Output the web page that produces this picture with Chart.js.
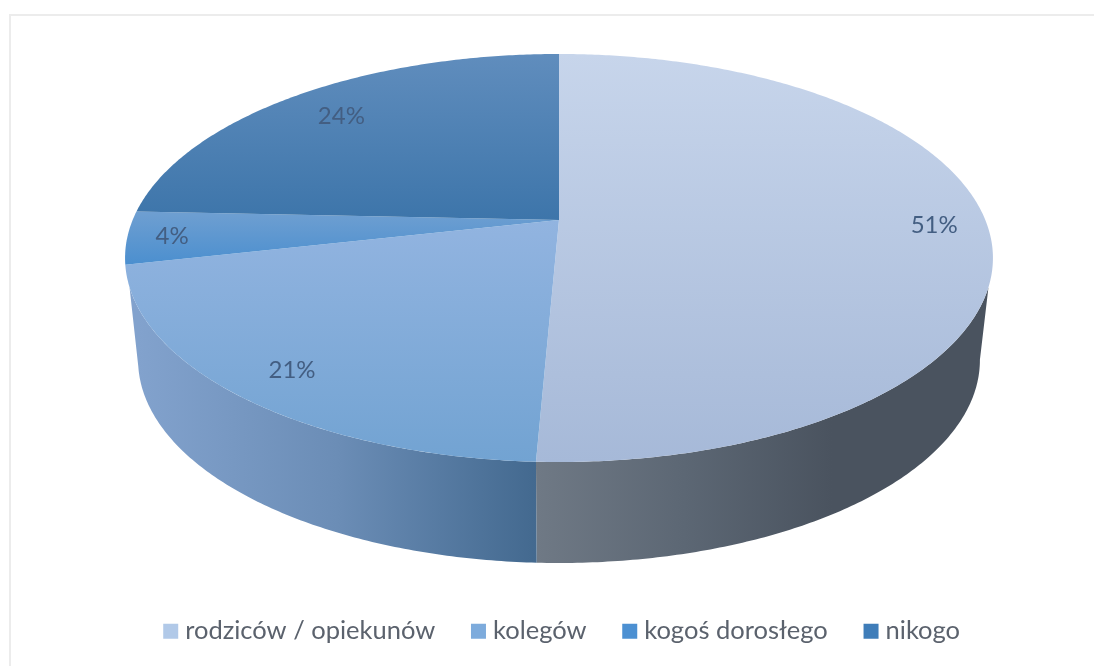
<!DOCTYPE html>
<html>
<head>
<meta charset="utf-8">
<script src="https://cdn.jsdelivr.net/npm/chart.js@4"></script>
<style>
    html, body { margin: 0; padding: 0; background: #fff; overflow: hidden; }
    #wrap { position: relative; width: 1094px; height: 666px; }
    #frame { position: absolute; left: 9px; top: 14px; right: 0; bottom: 0; border-left: 2px solid #ececec; border-top: 2px solid #ececec; }
    canvas { position: absolute; left: 0; top: 0; }
</style>
</head>
<body>
<div id="wrap">
    <div id="frame"></div>
    <canvas id="pie" width="1094" height="666"></canvas>
</div>
<script>
const categories = ['rodziców / opiekunów', 'kolegów', 'kogoś dorosłego', 'nikogo'];
const shares = [50.7, 20.8, 4.2, 24.3];

const legendColors = ['#b1c9e8', '#7dabdc', '#4c90d2', '#3f7db9'];
const topColors = [
    ['#c7d5eb', '#a6b9d8'],
    ['#92b4e0', '#72a3d2'],
    ['#6f9fd1', '#4b8fcf'],
    ['#608dbd', '#3d75aa']
];
const wallColors = [
    ['#6f7985', '#5c6774', '#4a535f'],
    ['#82a2cd', '#6b8db6', '#43698f']
];
// small shifts of the percent labels away from their slice's mid line
const labelNudge = [[3, 1], [5, 0], [-12, 1], [12, 7]];

// perspective of the tilted disc, in units of the chart's radius
const TILT = 0.186, DEPTH_Y = 0.5, SQUEEZE = 0.97, STRETCH = 2.09;
const FONT = 'Lato, "Open Sans", sans-serif';

function project(arc, theta, rho) {
    const u = Math.sin(theta) * rho;
    const v = -Math.cos(theta) * rho;
    const d = 1 - TILT * v;
    return {
        x: arc.x + arc.outerRadius * STRETCH * u / d,
        y: arc.y + arc.outerRadius * (v - TILT) / d
    };
}

function lower(arc, p) {
    return {
        x: arc.x + (p.x - arc.x) * SQUEEZE,
        y: arc.y + (p.y - arc.y) * 0.995 + arc.outerRadius * DEPTH_Y
    };
}

function rim(ctx, arc, from, to, map) {
    const steps = Math.max(2, Math.ceil(Math.abs(to - from) / 0.01));
    for (let i = 0; i <= steps; i++) {
        let p = project(arc, from + (to - from) * i / steps, 1);
        if (map) p = map(arc, p);
        ctx.lineTo(p.x, p.y);
    }
}

// the library's arc gives the angles, this draws them on the tilted disc
Chart.ArcElement.prototype.draw = function(ctx) {
    const a0 = this.startAngle + Math.PI / 2;
    const a1 = this.endAngle + Math.PI / 2;
    const i = this.$context.dataIndex;
    const apex = project(this, 0, 0);
    const ys = [project(this, a0, 1).y, project(this, a1, 1).y, project(this, (a0 + a1) / 2, 1).y, apex.y];
    const fill = ctx.createLinearGradient(0, Math.min(...ys), 0, Math.max(...ys));
    fill.addColorStop(0, topColors[i][0]);
    fill.addColorStop(1, topColors[i][1]);
    ctx.save();
    ctx.beginPath();
    ctx.moveTo(apex.x, apex.y);
    rim(ctx, this, a0, a1);
    ctx.closePath();
    ctx.fillStyle = fill;
    ctx.fill();
    ctx.restore();
};

const wallsPlugin = {
    id: 'walls',
    beforeDatasetsDraw(chart) {
        const ctx = chart.ctx;
        chart.getDatasetMeta(0).data.forEach((arc, i) => {
            if (!wallColors[i]) return;
            const a0 = arc.startAngle + Math.PI / 2;
            const a1 = arc.endAngle + Math.PI / 2;
            // silhouette angles: where the side line leaves the upper and lower rim
            const topFrom = Math.max(a0, 1.897), topTo = Math.min(a1, 4.386);
            const lowFrom = Math.max(a0, 1.757), lowTo = Math.min(a1, 4.526);
            const left = lower(arc, project(arc, lowTo, 1)).x;
            const right = lower(arc, project(arc, lowFrom, 1)).x;
            const fill = ctx.createLinearGradient(i === 0 ? right : left, 0, i === 0 ? left : right, 0);
            const stops = i === 0 ? [wallColors[0][2], wallColors[0][2], wallColors[0][1], wallColors[0][0]] : [wallColors[1][0], wallColors[1][1], wallColors[1][2]];
            stops.forEach((c, k) => fill.addColorStop(k / (stops.length - 1), c));
            ctx.save();
            ctx.beginPath();
            rim(ctx, arc, topFrom, topTo);
            rim(ctx, arc, lowTo, lowFrom, lower);
            ctx.closePath();
            ctx.fillStyle = fill;
            ctx.fill();
            ctx.restore();
        });
    }
};

const labelsPlugin = {
    id: 'sliceLabels',
    afterDatasetsDraw(chart) {
        const ctx = chart.ctx;
        ctx.save();
        ctx.font = '24px ' + FONT;
        ctx.fillStyle = '#435e82';
        ctx.textAlign = 'center';
        ctx.textBaseline = 'middle';
        chart.getDatasetMeta(0).data.forEach((arc, i) => {
            const mid = (arc.startAngle + arc.endAngle) / 2 + Math.PI / 2;
            const p = project(arc, mid, 0.87);
            ctx.fillText(Math.round(shares[i]) + '%', p.x + labelNudge[i][0], p.y + labelNudge[i][1]);
        });
        ctx.restore();
    }
};

// legend sits well below the disc, not right under the chart area
const legendPlacePlugin = {
    id: 'legendPlace',
    afterLayout(chart) {
        const lg = chart.legend;
        lg.top += 115;
        lg.bottom += 115;
        lg.left += 5.5;
        lg.right += 5.5;
    }
};

new Chart(document.getElementById('pie'), {
    type: 'pie',
    data: {
        labels: categories,
        datasets: [{
            data: shares,
            backgroundColor: legendColors,
            borderWidth: 0
        }]
    },
    options: {
        responsive: false,
        animation: false,
        layout: { padding: { top: 54, bottom: 127, left: 24 } },
        plugins: {
            tooltip: { enabled: false },
            legend: {
                position: 'bottom',
                labels: {
                    color: '#5b626d',
                    font: { family: FONT, size: 25.5 },
                    boxWidth: 3.5,
                    boxHeight: 3.5,
                    padding: 41.5,
                    generateLabels(chart) {
                        return Chart.overrides.pie.plugins.legend.labels.generateLabels(chart).map((item, i) => {
                            item.strokeStyle = legendColors[i];
                            item.lineWidth = 11.5;
                            return item;
                        });
                    }
                }
            }
        }
    },
    plugins: [wallsPlugin, labelsPlugin, legendPlacePlugin]
});
</script>
</body>
</html>
